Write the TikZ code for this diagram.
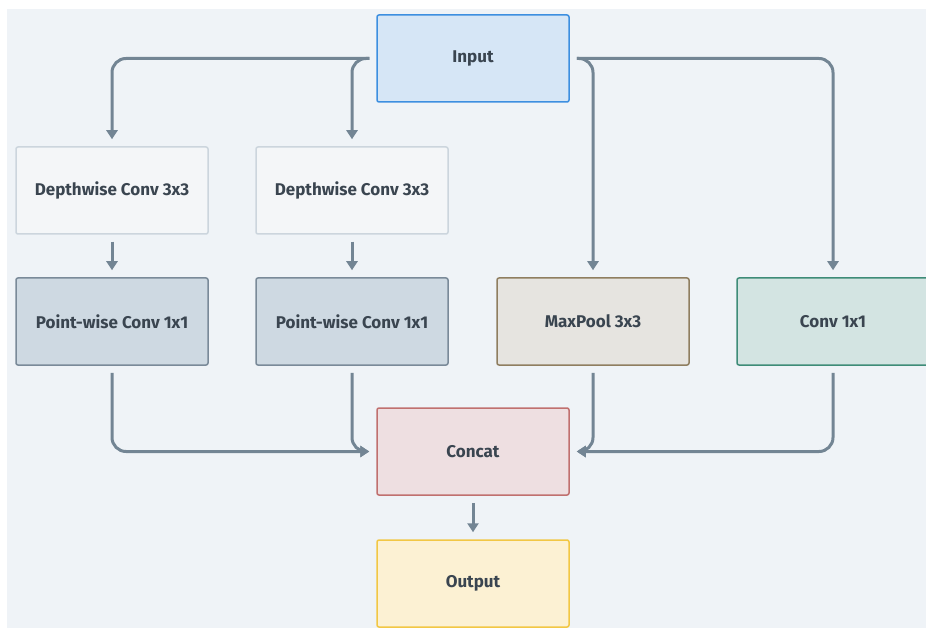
\documentclass[tikz,border=0pt]{standalone}
\usepackage{fontspec}
\setmainfont{Fira Sans}
\usetikzlibrary{arrows.meta}

\definecolor{bgcol}{HTML}{EFF3F7}
\definecolor{arrcol}{HTML}{738594}
\definecolor{txtcol}{HTML}{3A4550}
\definecolor{infill}{HTML}{D6E6F6}
\definecolor{indraw}{HTML}{3D8FE0}
\definecolor{dwfill}{HTML}{F4F6F8}
\definecolor{dwdraw}{HTML}{CCD5DD}
\definecolor{pwfill}{HTML}{CED9E2}
\definecolor{pwdraw}{HTML}{7A8A99}
\definecolor{mpfill}{HTML}{E6E4E0}
\definecolor{mpdraw}{HTML}{8F7E60}
\definecolor{cvfill}{HTML}{D3E4E2}
\definecolor{cvdraw}{HTML}{3E8C78}
\definecolor{ccfill}{HTML}{EEDFE1}
\definecolor{ccdraw}{HTML}{C0706F}
\definecolor{outfill}{HTML}{FCF1D3}
\definecolor{outdraw}{HTML}{F2C744}

\begin{document}
\begin{tikzpicture}
	[x=1pt, y=-1pt,
	box/.style={rectangle, rounded corners=2pt, line width=1.5pt,
		minimum width=192pt, minimum height=87pt, inner sep=0pt,
		text=txtcol, font=\fontsize{17}{20}\selectfont\bfseries},
	arr/.style={draw=arrcol, line width=3pt, rounded corners=14pt,
		-{Triangle[length=9pt,width=11pt]}, shorten <=7pt, shorten >=7pt}]
	% canvas
	\useasboundingbox (0,0) rectangle (926,628);
	\fill[bgcol] (7,9) rectangle (926,628);
	% blocks
	\node[box, fill=infill, draw=indraw] (in) at (473,58.5) {Input};
	\node[box, fill=dwfill, draw=dwdraw] (dw1) at (112,190.5) {Depthwise Conv 3x3};
	\node[box, fill=dwfill, draw=dwdraw] (dw2) at (352,190.5) {Depthwise Conv 3x3};
	\node[box, fill=pwfill, draw=pwdraw] (pw1) at (112,321.5) {Point-wise Conv 1x1};
	\node[box, fill=pwfill, draw=pwdraw] (pw2) at (352,321.5) {Point-wise Conv 1x1};
	\node[box, fill=mpfill, draw=mpdraw] (mp) at (593,321.5) {MaxPool 3x3};
	\node[box, fill=cvfill, draw=cvdraw] (cv) at (833,321.5) {Conv 1x1};
	\node[box, fill=ccfill, draw=ccdraw] (cc) at (473,451.5) {Concat};
	\node[box, fill=outfill, draw=outdraw] (out) at (473,583.5) {Output};
	% branches out of the input
	\draw[arr] (in.west) -| (dw1.north);
	\draw[arr] (in.west) -| (dw2.north);
	\draw[arr] (in.east) -| (mp.north);
	\draw[arr] (in.east) -| (cv.north);
	% separable convs
	\draw[arr] (dw1) -- (pw1);
	\draw[arr] (dw2) -- (pw2);
	% merge
	\draw[arr] (pw1.south) |- (cc.west);
	\draw[arr] (pw2.south) |- (cc.west);
	\draw[arr] (mp.south) |- (cc.east);
	\draw[arr] (cv.south) |- (cc.east);
	\draw[arr] (cc) -- (out);
\end{tikzpicture}
\end{document}
